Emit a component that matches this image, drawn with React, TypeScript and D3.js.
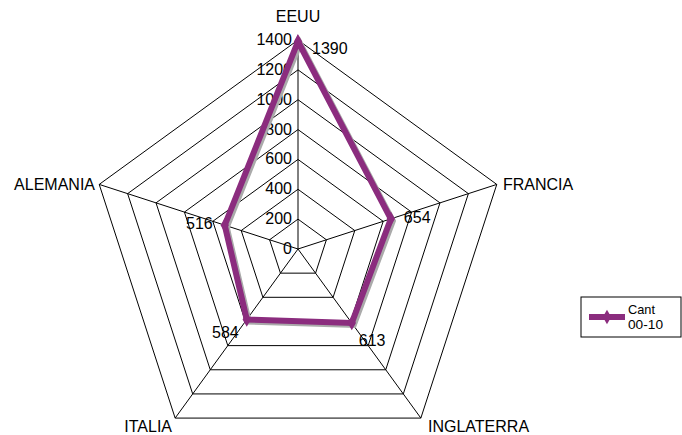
import React from "react";
import * as d3 from "d3";

const categories = ["EEUU", "FRANCIA", "INGLATERRA", "ITALIA", "ALEMANIA"];
const values = [1390, 654, 613, 584, 516];
const ticks = [0, 200, 400, 600, 800, 1000, 1200, 1400];
const seriesName = ["Cant", "00-10"];

const W = 682, H = 435;
const cx = 298, cy = 249, R = 209;
const color = "#8B2C7E";
const font = "Liberation Sans, Arial, sans-serif";
const fs = 16;

export default function App() {
  const r = d3.scaleLinear().domain([0, 1400]).range([0, R]);
  const ang = (i: number) => (i * 2 * Math.PI) / categories.length;
  const pt = (i: number, v: number): [number, number] => [
    cx + r(v) * Math.sin(ang(i)),
    cy - r(v) * Math.cos(ang(i)),
  ];
  const line = d3.line<[number, number]>().curve(d3.curveLinearClosed);
  const dataPts = values.map((v, i) => pt(i, v));
  const shadowPts = dataPts.map(([x, y]) => [x + 2, y + 2] as [number, number]);

  const catPos: { x: number; y: number; anchor: string }[] = [
    { x: 298, y: 22, anchor: "middle" },
    { x: 503, y: 190, anchor: "start" },
    { x: 428, y: 432, anchor: "start" },
    { x: 172, y: 432, anchor: "end" },
    { x: 95, y: 190, anchor: "end" },
  ];
  const labOff: [number, number, string][] = [
    [14, 8, "start"],
    [13, -1, "start"],
    [7, 18, "start"],
    [-8, 13, "end"],
    [-12, -1, "end"],
  ];
  const diamond = d3.symbol().type(d3.symbolDiamond).size(60)();

  return (
    <svg width={W} height={H} style={{ position: "absolute", left: 0, top: 0 }}>
      <rect width={W} height={H} fill="#fff" />
      {ticks.slice(1).map((t) => (
        <path
          key={t}
          d={line(categories.map((_, i) => pt(i, t))) || ""}
          fill="none"
          stroke="#000"
          strokeWidth={1}
        />
      ))}
      {categories.map((c, i) => {
        const [x, y] = pt(i, 1400);
        return <line key={c} x1={cx} y1={cy} x2={x} y2={y} stroke="#000" strokeWidth={1} />;
      })}
      {ticks.map((t) => (
        <text
          key={t}
          x={cx - 6}
          y={cy - r(t) + 5}
          textAnchor="end"
          fontSize={fs}
          fontFamily={font}
        >
          {t}
        </text>
      ))}
      {categories.map((c, i) => (
        <text
          key={c}
          x={catPos[i].x}
          y={catPos[i].y}
          textAnchor={catPos[i].anchor as any}
          fontSize={fs}
          fontFamily={font}
        >
          {c}
        </text>
      ))}
      <path d={line(shadowPts) || ""} fill="none" stroke="#aaa" strokeWidth={6} strokeLinejoin="miter" />
      <path d={line(dataPts) || ""} fill="none" stroke={color} strokeWidth={6} strokeLinejoin="miter" />
      {dataPts.map(([x, y], i) => (
        <path key={i} d={diamond || ""} transform={`translate(${x},${y})`} fill={color} />
      ))}
      {dataPts.map(([x, y], i) => (
        <text
          key={"l" + i}
          x={x + labOff[i][0]}
          y={y + labOff[i][1] + 5}
          textAnchor={labOff[i][2] as any}
          fontSize={fs}
          fontFamily={font}
        >
          {values[i]}
        </text>
      ))}
      <rect x={581} y={297} width={100} height={40} fill="#fff" stroke="#000" strokeWidth={1} />
      <line x1={589} y1={317} x2={625} y2={317} stroke={color} strokeWidth={6} />
      <path d={diamond || ""} transform="translate(607,317)" fill={color} />
      <text x={628} y={314} fontSize={13} fontFamily={font} textLength={27} lengthAdjust="spacingAndGlyphs">{seriesName[0]}</text>
      <text x={628} y={329} fontSize={13} fontFamily={font} textLength={35} lengthAdjust="spacingAndGlyphs">{seriesName[1]}</text>
    </svg>
  );
}
